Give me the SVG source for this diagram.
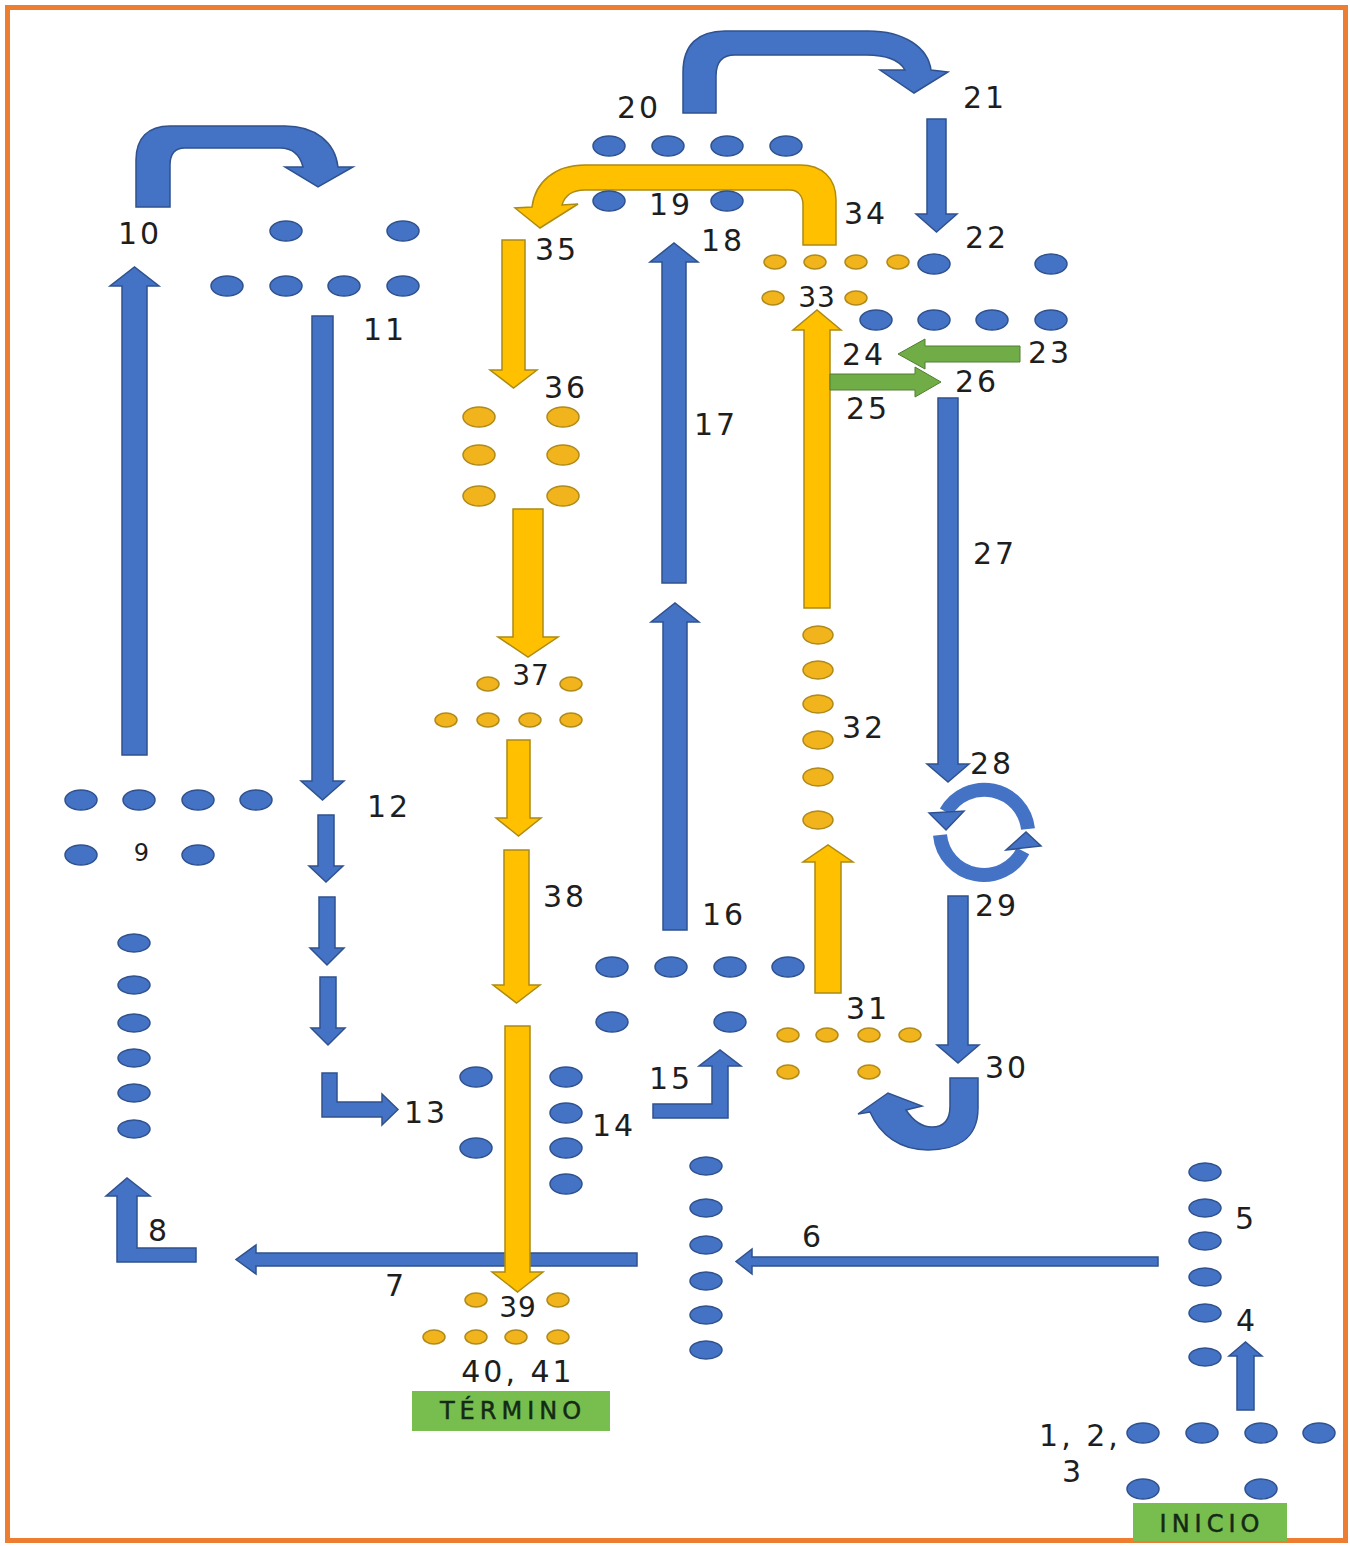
<svg xmlns="http://www.w3.org/2000/svg" width="1350" height="1546" viewBox="0 0 1350 1546">
<style>
.b{fill:#4472C4;stroke:#2F528F;stroke-width:1.5}
.y{fill:#FFC000;stroke:#AD8A12;stroke-width:1.5}
.g{fill:#70AD47;stroke:#507E32;stroke-width:1}
.arc{fill:none;stroke:#4472C4;stroke-width:14}
.d{fill:#4472C4;stroke:#2F528F;stroke-width:1.5}
.s{fill:#F2B41C;stroke:#B08A1A;stroke-width:1.5}
.t{font-family:"DejaVu Sans",sans-serif;font-size:30px;fill:#1E1E1E;text-anchor:middle;dominant-baseline:central;letter-spacing:3px}
.box{fill:#78BE4E}
.bt{font-family:"DejaVu Sans",sans-serif;font-size:24px;fill:#142A16;text-anchor:middle;dominant-baseline:central;letter-spacing:5px;stroke:#142A16;stroke-width:0.5}
</style>
<rect x="7.5" y="7.5" width="1338" height="1533" fill="#fff" stroke="#ED7D31" stroke-width="5"/>

<g id="connectors">
<!-- blue bent 20->21 -->
<path class="b" d="M683,113 L683,72 C683,45 698,31 725,31 L868,31 C905,31 928,48 931,70 L948,72 L914,93 L880,70 L905,70 C900,61 888,55 866,55 L735,55 C722,55 716,62 716,76 L716,113 Z"/>
<!-- blue bent 10->11 -->
<path class="b" d="M136,207 L136,160 C136,138 148,126 170,126 L285,126 C315,126 335,142 338,167 L353,167 L318,187 L285,167 L303,167 C300,155 292,148 280,148 L185,148 C175,148 170,154 170,165 L170,207 Z"/>
<!-- yellow bent 34->35 -->
<path class="y" d="M836,245 L836,200 C836,178 822,165 800,165 L585,165 C555,165 535,182 532,207 L515,208 L540,228 L578,204 L562,205 C565,195 572,190 585,190 L790,190 C798,190 803,196 803,205 L803,245 Z"/>
<!-- blue straight -->
<polygon class="b" points="927,119 946,119 946,214 957,214 936.5,232 916,214 927,214"/>
<polygon class="b" points="938,398 958,398 958,764 969,764 948,782 927,764 938,764"/>
<polygon class="b" points="948,896 968,896 968,1045 979,1045 958,1063 937,1045 948,1045"/>
<polygon class="b" points="662,583 686,583 686,262 698,262 674,243 650,262 662,262"/>
<polygon class="b" points="663,930 687,930 687,622 699,622 675,603 651,622 663,622"/>
<polygon class="b" points="122,755 147,755 147,286 159,286 134.5,267 110,286 122,286"/>
<polygon class="b" points="312,316 333,316 333,781 344,781 322.5,800 301,781 312,781"/>
<polygon class="b" points="318,815 334,815 334,866 343,866 326,882 309,866 318,866"/>
<polygon class="b" points="319,897 335,897 335,948 344,948 327,965 310,948 319,948"/>
<polygon class="b" points="320,977 336,977 336,1028 345,1028 328,1045 311,1028 320,1028"/>
<polygon class="b" points="1237,1410 1254,1410 1254,1356 1262,1356 1245.5,1342 1229,1356 1237,1356"/>
<polygon class="b" points="1158,1257 1158,1266 752,1266 752,1274 736,1261.5 752,1249 752,1257"/>
<polygon class="b" points="637,1253 637,1266 256,1266 256,1274 236,1259.5 256,1245 256,1253"/>
<!-- L arrows -->
<polygon class="b" points="322,1073 337,1073 337,1102 382,1102 382,1094 398,1109.5 382,1125 382,1117 322,1117"/>
<polygon class="b" points="653,1104 712,1104 712,1066 699,1066 720,1050 741,1066 728,1066 728,1118 653,1118"/>
<polygon class="b" points="117,1262 196,1262 196,1248 137,1248 137,1196 150,1196 127,1178 106,1196 117,1196"/>
<!-- U-turn 30 -->
<path class="b" d="M978,1078 L978,1108 C978,1140 955,1150 928,1150 C900,1150 880,1135 870,1112 L858,1114 L888,1093 L922,1106 L906,1110 C914,1122 922,1127 932,1127 C944,1127 950,1120 950,1106 L950,1078 Z"/>
<!-- circular 28 -->
<path class="arc" d="M1028,829 A44,44 0 0 0 946,812"/>
<polygon class="b" points="929,813 964,811 946,830"/>
<path class="arc" d="M940,835 A44,44 0 0 0 1023,851"/>
<polygon class="b" points="1006,850 1041,846 1026,832"/>
<!-- yellow straight -->
<polygon class="y" points="502,240 525,240 525,370 537,370 513.5,388 490,370 502,370"/>
<polygon class="y" points="513,509 543,509 543,637 558,637 528,657 498,637 513,637"/>
<polygon class="y" points="507,740 530,740 530,818 541,818 518.5,836 496,818 507,818"/>
<polygon class="y" points="504,850 529,850 529,985 540,985 516.5,1003 493,985 504,985"/>
<polygon class="y" points="505,1026 530,1026 530,1272 543,1272 517.5,1292 492,1272 505,1272"/>
<polygon class="y" points="804,608 830,608 830,330 841,330 817,310 793,330 804,330"/>
<polygon class="y" points="815,993 841,993 841,862 853,862 828,845 803,862 815,862"/>
<!-- green -->
<polygon class="g" points="1020,346 1020,362 925,362 925,369 898,354 925,339 925,346"/>
<polygon class="g" points="830,374 915,374 915,367 941,382 915,397 915,390 830,390"/>
</g>

<g id="n1-3">
<ellipse class="d" cx="1143" cy="1433" rx="16" ry="10"/><ellipse class="d" cx="1202" cy="1433" rx="16" ry="10"/><ellipse class="d" cx="1261" cy="1433" rx="16" ry="10"/><ellipse class="d" cx="1319" cy="1433" rx="16" ry="10"/>
<ellipse class="d" cx="1143" cy="1489" rx="16" ry="10"/><ellipse class="d" cx="1261" cy="1489" rx="16" ry="10"/>
<text class="t" x="1080" y="1435">1, 2,</text><text class="t" x="1073" y="1471">3</text>
</g>
<g id="inicio"><rect class="box" x="1133" y="1503" width="154" height="38"/><text class="bt" x="1212" y="1524">INICIO</text></g>
<g id="n4"><text class="t" x="1247" y="1320">4</text></g>
<g id="n5">
<ellipse class="d" cx="1205" cy="1172" rx="16" ry="9"/><ellipse class="d" cx="1205" cy="1208" rx="16" ry="9"/><ellipse class="d" cx="1205" cy="1241" rx="16" ry="9"/><ellipse class="d" cx="1205" cy="1277" rx="16" ry="9"/><ellipse class="d" cx="1205" cy="1313" rx="16" ry="9"/><ellipse class="d" cx="1205" cy="1357" rx="16" ry="9"/>
<text class="t" x="1246" y="1218">5</text>
</g>
<g id="n6">
<ellipse class="d" cx="706" cy="1166" rx="16" ry="9"/><ellipse class="d" cx="706" cy="1208" rx="16" ry="9"/><ellipse class="d" cx="706" cy="1245" rx="16" ry="9"/><ellipse class="d" cx="706" cy="1281" rx="16" ry="9"/><ellipse class="d" cx="706" cy="1315" rx="16" ry="9"/><ellipse class="d" cx="706" cy="1350" rx="16" ry="9"/>
<text class="t" x="813" y="1236">6</text>
</g>
<g id="n7"><text class="t" x="396" y="1285">7</text></g>
<g id="n8">
<ellipse class="d" cx="134" cy="943" rx="16" ry="9"/><ellipse class="d" cx="134" cy="985" rx="16" ry="9"/><ellipse class="d" cx="134" cy="1023" rx="16" ry="9"/><ellipse class="d" cx="134" cy="1058" rx="16" ry="9"/><ellipse class="d" cx="134" cy="1093" rx="16" ry="9"/><ellipse class="d" cx="134" cy="1129" rx="16" ry="9"/>
<text class="t" x="159" y="1230">8</text>
</g>
<g id="n9">
<ellipse class="d" cx="81" cy="800" rx="16" ry="10"/><ellipse class="d" cx="139" cy="800" rx="16" ry="10"/><ellipse class="d" cx="198" cy="800" rx="16" ry="10"/><ellipse class="d" cx="256" cy="800" rx="16" ry="10"/>
<ellipse class="d" cx="81" cy="855" rx="16" ry="10"/><ellipse class="d" cx="198" cy="855" rx="16" ry="10"/>
<text class="t" x="143" y="853" style="font-size:24px">9</text>
</g>
<g id="n10"><text class="t" x="140" y="233">10</text></g>
<g id="n11">
<ellipse class="d" cx="286" cy="231" rx="16" ry="10"/><ellipse class="d" cx="403" cy="231" rx="16" ry="10"/>
<ellipse class="d" cx="227" cy="286" rx="16" ry="10"/><ellipse class="d" cx="286" cy="286" rx="16" ry="10"/><ellipse class="d" cx="344" cy="286" rx="16" ry="10"/><ellipse class="d" cx="403" cy="286" rx="16" ry="10"/>
<text class="t" x="385" y="329">11</text>
</g>
<g id="n12"><text class="t" x="389" y="806">12</text></g>
<g id="n13"><text class="t" x="426" y="1112">13</text></g>
<g id="n14">
<ellipse class="d" cx="476" cy="1077" rx="16" ry="10"/><ellipse class="d" cx="476" cy="1148" rx="16" ry="10"/>
<ellipse class="d" cx="566" cy="1077" rx="16" ry="10"/><ellipse class="d" cx="566" cy="1113" rx="16" ry="10"/><ellipse class="d" cx="566" cy="1148" rx="16" ry="10"/><ellipse class="d" cx="566" cy="1184" rx="16" ry="10"/>
<text class="t" x="614" y="1125">14</text>
</g>
<g id="n15"><text class="t" x="671" y="1078">15</text></g>
<g id="n16">
<ellipse class="d" cx="612" cy="967" rx="16" ry="10"/><ellipse class="d" cx="671" cy="967" rx="16" ry="10"/><ellipse class="d" cx="730" cy="967" rx="16" ry="10"/><ellipse class="d" cx="788" cy="967" rx="16" ry="10"/>
<ellipse class="d" cx="612" cy="1022" rx="16" ry="10"/><ellipse class="d" cx="730" cy="1022" rx="16" ry="10"/>
<text class="t" x="724" y="914">16</text>
</g>
<g id="n17"><text class="t" x="716" y="424">17</text></g>
<g id="n18"><text class="t" x="723" y="240">18</text></g>
<g id="n19">
<ellipse class="d" cx="609" cy="201" rx="16" ry="10"/><ellipse class="d" cx="727" cy="201" rx="16" ry="10"/>
<text class="t" x="671" y="204">19</text>
</g>
<g id="n20">
<ellipse class="d" cx="609" cy="146" rx="16" ry="10"/><ellipse class="d" cx="668" cy="146" rx="16" ry="10"/><ellipse class="d" cx="727" cy="146" rx="16" ry="10"/><ellipse class="d" cx="786" cy="146" rx="16" ry="10"/>
<text class="t" x="639" y="107">20</text>
</g>
<g id="n21"><text class="t" x="985" y="97">21</text></g>
<g id="n22">
<ellipse class="d" cx="934" cy="264" rx="16" ry="10"/><ellipse class="d" cx="1051" cy="264" rx="16" ry="10"/>
<ellipse class="d" cx="876" cy="320" rx="16" ry="10"/><ellipse class="d" cx="934" cy="320" rx="16" ry="10"/><ellipse class="d" cx="992" cy="320" rx="16" ry="10"/><ellipse class="d" cx="1051" cy="320" rx="16" ry="10"/>
<text class="t" x="987" y="237">22</text>
</g>
<g id="n23"><text class="t" x="1050" y="352">23</text></g>
<g id="n24"><text class="t" x="864" y="354">24</text></g>
<g id="n25"><text class="t" x="868" y="408">25</text></g>
<g id="n26"><text class="t" x="977" y="381">26</text></g>
<g id="n27"><text class="t" x="995" y="553">27</text></g>
<g id="n28"><text class="t" x="992" y="763">28</text></g>
<g id="n29"><text class="t" x="997" y="905">29</text></g>
<g id="n30"><text class="t" x="1007" y="1067">30</text></g>
<g id="n31">
<ellipse class="s" cx="788" cy="1035" rx="11" ry="7"/><ellipse class="s" cx="827" cy="1035" rx="11" ry="7"/><ellipse class="s" cx="869" cy="1035" rx="11" ry="7"/><ellipse class="s" cx="910" cy="1035" rx="11" ry="7"/>
<ellipse class="s" cx="788" cy="1072" rx="11" ry="7"/><ellipse class="s" cx="869" cy="1072" rx="11" ry="7"/>
<text class="t" x="868" y="1008">31</text>
</g>
<g id="n32">
<ellipse class="s" cx="818" cy="635" rx="15" ry="9"/><ellipse class="s" cx="818" cy="670" rx="15" ry="9"/><ellipse class="s" cx="818" cy="704" rx="15" ry="9"/><ellipse class="s" cx="818" cy="740" rx="15" ry="9"/><ellipse class="s" cx="818" cy="777" rx="15" ry="9"/><ellipse class="s" cx="818" cy="820" rx="15" ry="9"/>
<text class="t" x="864" y="727">32</text>
</g>
<g id="n33">
<ellipse class="s" cx="775" cy="262" rx="11" ry="7"/><ellipse class="s" cx="815" cy="262" rx="11" ry="7"/><ellipse class="s" cx="856" cy="262" rx="11" ry="7"/><ellipse class="s" cx="898" cy="262" rx="11" ry="7"/>
<ellipse class="s" cx="773" cy="298" rx="11" ry="7"/><ellipse class="s" cx="856" cy="298" rx="11" ry="7"/>
<text class="t" x="817" y="297" style="font-size:28px;letter-spacing:1px">33</text>
</g>
<g id="n34"><text class="t" x="866" y="213">34</text></g>
<g id="n35"><text class="t" x="557" y="249">35</text></g>
<g id="n36">
<ellipse class="s" cx="479" cy="417" rx="16" ry="10"/><ellipse class="s" cx="563" cy="417" rx="16" ry="10"/>
<ellipse class="s" cx="479" cy="455" rx="16" ry="10"/><ellipse class="s" cx="563" cy="455" rx="16" ry="10"/>
<ellipse class="s" cx="479" cy="496" rx="16" ry="10"/><ellipse class="s" cx="563" cy="496" rx="16" ry="10"/>
<text class="t" x="566" y="387">36</text>
</g>
<g id="n37">
<ellipse class="s" cx="488" cy="684" rx="11" ry="7"/><ellipse class="s" cx="571" cy="684" rx="11" ry="7"/>
<ellipse class="s" cx="446" cy="720" rx="11" ry="7"/><ellipse class="s" cx="488" cy="720" rx="11" ry="7"/><ellipse class="s" cx="530" cy="720" rx="11" ry="7"/><ellipse class="s" cx="571" cy="720" rx="11" ry="7"/>
<text class="t" x="531" y="675" style="font-size:28px;letter-spacing:1px">37</text>
</g>
<g id="n38"><text class="t" x="565" y="896">38</text></g>
<g id="n39">
<ellipse class="s" cx="476" cy="1300" rx="11" ry="7"/><ellipse class="s" cx="558" cy="1300" rx="11" ry="7"/>
<ellipse class="s" cx="434" cy="1337" rx="11" ry="7"/><ellipse class="s" cx="476" cy="1337" rx="11" ry="7"/><ellipse class="s" cx="516" cy="1337" rx="11" ry="7"/><ellipse class="s" cx="558" cy="1337" rx="11" ry="7"/>
<text class="t" x="518" y="1307" style="font-size:28px;letter-spacing:1px">39</text>
</g>
<g id="n40-41"><text class="t" x="518" y="1371">40, 41</text></g>
<g id="termino"><rect class="box" x="412" y="1391" width="198" height="40"/><text class="bt" x="513" y="1411">TÉRMINO</text></g>
</svg>
